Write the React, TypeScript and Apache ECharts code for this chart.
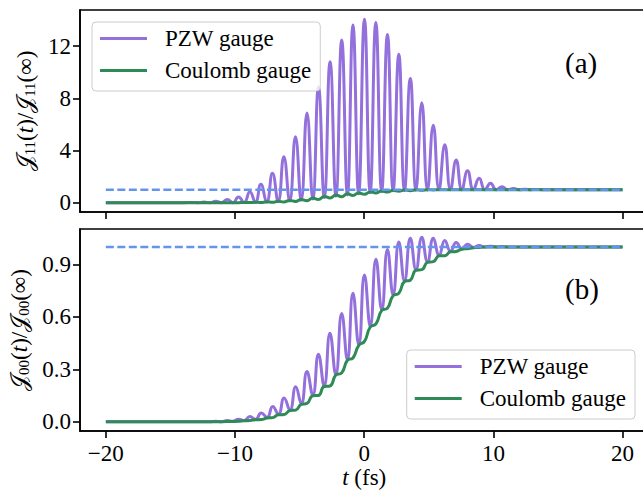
import React, { useEffect, useRef } from 'react';
import * as echarts from 'echarts';

const xTicks = [-20, -10, 0, 10, 20];
const yTicksA = [0, 4, 8, 12];
const yTicksB = [0, 0.3, 0.6, 0.9];
const legendNames = ['PZW gauge', 'Coulomb gauge'];
const refLine: [number, number][] = [[-20, 1], [20, 1]];

// Panel (a): PZW gauge, peaks and troughs
const pzwA: [number, number][] = [
  [-20, 0], [-16, 0], [-14, 0.003], [-13.3, 0.02], [-12.85, 0.0], [-12.4, 0.05], [-11.95, 0.0],
  [-11.5, 0.12], [-11.05, 0.002], [-10.6, 0.25], [-10.17, 0.006], [-9.73, 0.43], [-9.3, 0.015],
  [-8.85, 0.84], [-8.42, 0.027], [-8.0, 1.41], [-7.55, 0.045], [-7.1, 2.25], [-6.66, 0.078],
  [-6.22, 3.53], [-5.77, 0.128], [-5.32, 5.06], [-4.88, 0.19], [-4.43, 6.88], [-3.98, 0.28],
  [-3.54, 8.86], [-3.09, 0.4], [-2.64, 10.8], [-2.19, 0.505], [-1.74, 12.47], [-1.3, 0.6],
  [-0.87, 13.62], [-0.43, 0.68], [0.02, 14.06], [0.46, 0.765], [0.9, 13.82], [1.35, 0.845],
  [1.8, 12.9], [2.24, 0.905], [2.68, 11.37], [3.12, 0.94], [3.57, 9.53], [4.01, 0.965],
  [4.46, 7.66], [4.9, 0.983], [5.35, 5.93], [5.79, 0.995], [6.24, 4.44], [6.68, 1.0],
  [7.12, 3.27], [7.56, 1.0], [8.0, 2.45], [8.45, 1.0], [8.9, 1.87], [9.34, 1.0],
  [9.78, 1.49], [10.22, 1.0], [10.67, 1.23], [11.11, 1.0], [11.56, 1.1], [12.0, 1.0],
  [12.45, 1.04], [12.9, 1.0], [13.34, 1.015], [13.8, 1.0], [15, 1.0], [20, 1.0],
];

// Panel (a): Coulomb gauge
const coulA: [number, number][] = [
  [-20, 0], [-15, 0], [-12.4, 0], [-11.5, 0.001], [-10.6, 0.003], [-10.17, 0.008],
  [-9.73, 0.005], [-9.3, 0.023], [-8.85, 0.01], [-8.42, 0.042], [-8.0, 0.015], [-7.55, 0.07],
  [-7.1, 0.028], [-6.66, 0.113], [-6.22, 0.06], [-5.77, 0.178], [-5.32, 0.1], [-4.88, 0.25],
  [-4.43, 0.16], [-3.98, 0.355], [-3.54, 0.25], [-3.09, 0.485], [-2.64, 0.37], [-2.19, 0.595],
  [-1.74, 0.46], [-1.3, 0.685], [-0.87, 0.56], [-0.43, 0.755], [0.02, 0.65], [0.46, 0.83],
  [0.9, 0.75], [1.35, 0.9], [1.8, 0.83], [2.24, 0.95], [2.68, 0.885], [3.12, 0.975],
  [3.57, 0.925], [4.01, 0.99], [4.46, 0.955], [4.9, 0.998], [5.35, 0.98], [5.79, 1.0],
  [6.24, 0.994], [6.68, 1.0], [8, 1.0], [20, 1.0],
];

// Panel (b): PZW gauge
const pzwB: [number, number][] = [
  [-20, 0], [-15, 0], [-12.4, 0.001], [-11.95, 0.0], [-11.5, 0.003], [-11.05, 0.001],
  [-10.6, 0.007], [-10.17, 0.003], [-9.73, 0.015], [-9.3, 0.007], [-8.85, 0.03], [-8.41, 0.014],
  [-7.97, 0.05], [-7.52, 0.025], [-7.08, 0.088], [-6.64, 0.043], [-6.2, 0.136], [-5.75, 0.067],
  [-5.3, 0.2], [-4.87, 0.103], [-4.43, 0.287], [-3.98, 0.152], [-3.54, 0.387], [-3.1, 0.205],
  [-2.65, 0.506], [-2.2, 0.27], [-1.74, 0.62], [-1.3, 0.355], [-0.87, 0.735], [-0.42, 0.44],
  [0.02, 0.84], [0.47, 0.545], [0.91, 0.93], [1.36, 0.64], [1.8, 0.985], [2.24, 0.725],
  [2.68, 1.028], [3.12, 0.805], [3.57, 1.05], [4.01, 0.87], [4.46, 1.056], [4.9, 0.915],
  [5.35, 1.05], [5.8, 0.952], [6.24, 1.037], [6.68, 0.975], [7.12, 1.025], [7.56, 0.99],
  [8.0, 1.015], [8.45, 0.997], [8.9, 1.008], [9.34, 1.0], [9.78, 1.004], [10.22, 1.0],
  [10.67, 1.002], [11.11, 1.0], [13, 1.0], [20, 1.0],
];

// Panel (b): Coulomb gauge (staircase-like rise)
const coulB: [number, number][] = [
  [-20, 0], [-14, 0], [-12.4, 0], [-11.05, 0.001], [-10.17, 0.002], [-9.73, 0.003],
  [-9.3, 0.006], [-8.85, 0.007], [-8.41, 0.012], [-7.97, 0.013], [-7.52, 0.022], [-7.08, 0.024],
  [-6.64, 0.04], [-6.2, 0.042], [-5.75, 0.064], [-5.3, 0.067], [-4.87, 0.1], [-4.43, 0.105],
  [-3.98, 0.149], [-3.54, 0.151], [-3.1, 0.202], [-2.65, 0.205], [-2.2, 0.267], [-1.74, 0.28],
  [-1.3, 0.352], [-0.87, 0.365], [-0.42, 0.437], [0.02, 0.46], [0.47, 0.542], [0.91, 0.56],
  [1.36, 0.637], [1.8, 0.65], [2.24, 0.722], [2.68, 0.735], [3.12, 0.802], [3.57, 0.81],
  [4.01, 0.867], [4.46, 0.87], [4.9, 0.912], [5.35, 0.916], [5.8, 0.949], [6.24, 0.95],
  [6.68, 0.972], [7.12, 0.974], [7.56, 0.987], [8.0, 0.99], [8.45, 0.995], [8.9, 0.997],
  [9.34, 0.999], [10.22, 1.0], [20, 1.0],
];

const FONT = 'Liberation Serif';
const FS = 23;
const PURPLE = '#9370DB';
const GREEN = '#2E8B57';
const BLUE = '#6495ED';

const fmtNum = (v: number, d: number) => {
  const s = Math.abs(v).toFixed(d);
  return v < 0 ? '\u2212' + s : s;
};

const yRich = {
  J: { fontFamily: 'DejaVu Sans', fontSize: FS, color: '#000' },
  s: { fontFamily: FONT, fontSize: 15, padding: [9, 0, 0, 0], color: '#000' },
  i: { fontFamily: FONT, fontSize: FS, fontStyle: 'italic', color: '#000' },
  n: { fontFamily: FONT, fontSize: FS, color: '#000' },
};

function makeXAxis(gridIndex: number, withLabels: boolean) {
  return {
    type: 'value',
    gridIndex,
    min: -22,
    max: 22,
    splitLine: { show: false },
    axisLine: { show: true, onZero: false, lineStyle: { color: '#000', width: 1.6 } },
    axisTick: { show: true, customValues: xTicks, length: 7, lineStyle: { color: '#000', width: 1.6 } },
    axisLabel: {
      show: withLabels,
      customValues: xTicks,
      formatter: (v: number) => fmtNum(v, 0),
      fontFamily: FONT,
      fontSize: FS,
      color: '#000',
      margin: 11,
    },
    name: withLabels ? '{i|t} (fs)' : '',
    nameLocation: 'middle',
    nameGap: 34,
    nameTextStyle: {
      fontFamily: FONT,
      fontSize: FS,
      color: '#000',
      rich: { i: { fontFamily: FONT, fontSize: FS, fontStyle: 'italic', color: '#000' } },
    },
  };
}

function makeYAxis(gridIndex: number, min: number, max: number, ticks: number[], dec: number, name: string) {
  return {
    type: 'value',
    gridIndex,
    min,
    max,
    splitLine: { show: false },
    axisLine: { show: true, onZero: false, lineStyle: { color: '#000', width: 1.6 } },
    axisTick: { show: true, customValues: ticks, length: 7, lineStyle: { color: '#000', width: 1.6 } },
    axisLabel: {
      customValues: ticks,
      formatter: (v: number) => fmtNum(v, dec),
      fontFamily: FONT,
      fontSize: FS,
      color: '#000',
      margin: 9,
    },
    name,
    nameLocation: 'middle',
    nameGap: 42,
    nameTextStyle: { fontFamily: FONT, fontSize: FS, color: '#000', rich: yRich },
  };
}

function legendCfg(pos: Record<string, number>) {
  return {
    data: legendNames,
    orient: 'vertical',
    ...pos,
    icon: 'rect',
    itemWidth: 47,
    itemHeight: 3,
    itemGap: 9,
    padding: [5, 9, 9, 8],
    backgroundColor: 'rgba(255,255,255,0.8)',
    borderColor: '#cccccc',
    borderWidth: 1,
    borderRadius: 4,
    textStyle: { fontFamily: FONT, fontSize: FS, lineHeight: 23, color: '#000', padding: [0, 0, 0, 13] },
  };
}

function lineSeries(name: string, data: [number, number][], idx: number, color: string, z: number) {
  return {
    type: 'line',
    name,
    xAxisIndex: idx,
    yAxisIndex: idx,
    data,
    smooth: 0.5,
    symbol: 'none',
    clip: true,
    z,
    lineStyle: { color, width: 3 },
    itemStyle: { color },
  };
}

function refSeries(idx: number) {
  return {
    type: 'line',
    name: 'ref',
    xAxisIndex: idx,
    yAxisIndex: idx,
    data: refLine,
    symbol: 'none',
    z: 4,
    lineStyle: { color: BLUE, width: 2.4, type: [8, 3.5] },
    itemStyle: { color: BLUE },
  };
}

export default function App() {
  const ref = useRef<HTMLDivElement>(null);
  useEffect(() => {
    if (!ref.current) return;
    const chart = echarts.init(ref.current, null, { renderer: 'svg' });
    const gridBase = {
      left: 80,
      right: -5.4,
      height: 202,
      show: true,
      borderColor: '#000',
      borderWidth: 1.6,
      backgroundColor: 'transparent',
      containLabel: false,
      outerBoundsMode: 'none',
    };
    chart.setOption({
      animation: false,
      backgroundColor: '#fff',
      grid: [
        { ...gridBase, top: 10 },
        { ...gridBase, top: 229 },
      ],
      xAxis: [makeXAxis(0, false), makeXAxis(1, true)],
      yAxis: [
        makeYAxis(0, -0.71, 14.77, yTicksA, 0, '{J|\u{1D4A5}}{s|11}{n|(}{i|t}{n|)/}{J|\u{1D4A5}}{s|11}{n|(\u221E)}'),
        makeYAxis(1, -0.0525, 1.1025, yTicksB, 1, '{J|\u{1D4A5}}{s|00}{n|(}{i|t}{n|)/}{J|\u{1D4A5}}{s|00}{n|(\u221E)}'),
      ],
      title: [
        { text: '(a)', left: 565, top: 48, padding: 0, textStyle: { fontFamily: FONT, fontSize: 29, fontWeight: 'normal', color: '#000' } },
        { text: '(b)', left: 565, top: 274, padding: 0, textStyle: { fontFamily: FONT, fontSize: 29, fontWeight: 'normal', color: '#000' } },
      ],
      legend: [legendCfg({ left: 92, top: 22 }), legendCfg({ right: 8, top: 350 })],
      series: [
        lineSeries('PZW gauge', pzwA, 0, PURPLE, 2),
        lineSeries('Coulomb gauge', coulA, 0, GREEN, 3),
        refSeries(0),
        lineSeries('PZW gauge', pzwB, 1, PURPLE, 2),
        lineSeries('Coulomb gauge', coulB, 1, GREEN, 3),
        refSeries(1),
      ],
    });
    return () => chart.dispose();
  }, []);
  return (
    <div
      ref={ref}
      style={{ position: 'fixed', left: 0, top: 0, width: 643, height: 492, background: '#fff' }}
    />
  );
}
